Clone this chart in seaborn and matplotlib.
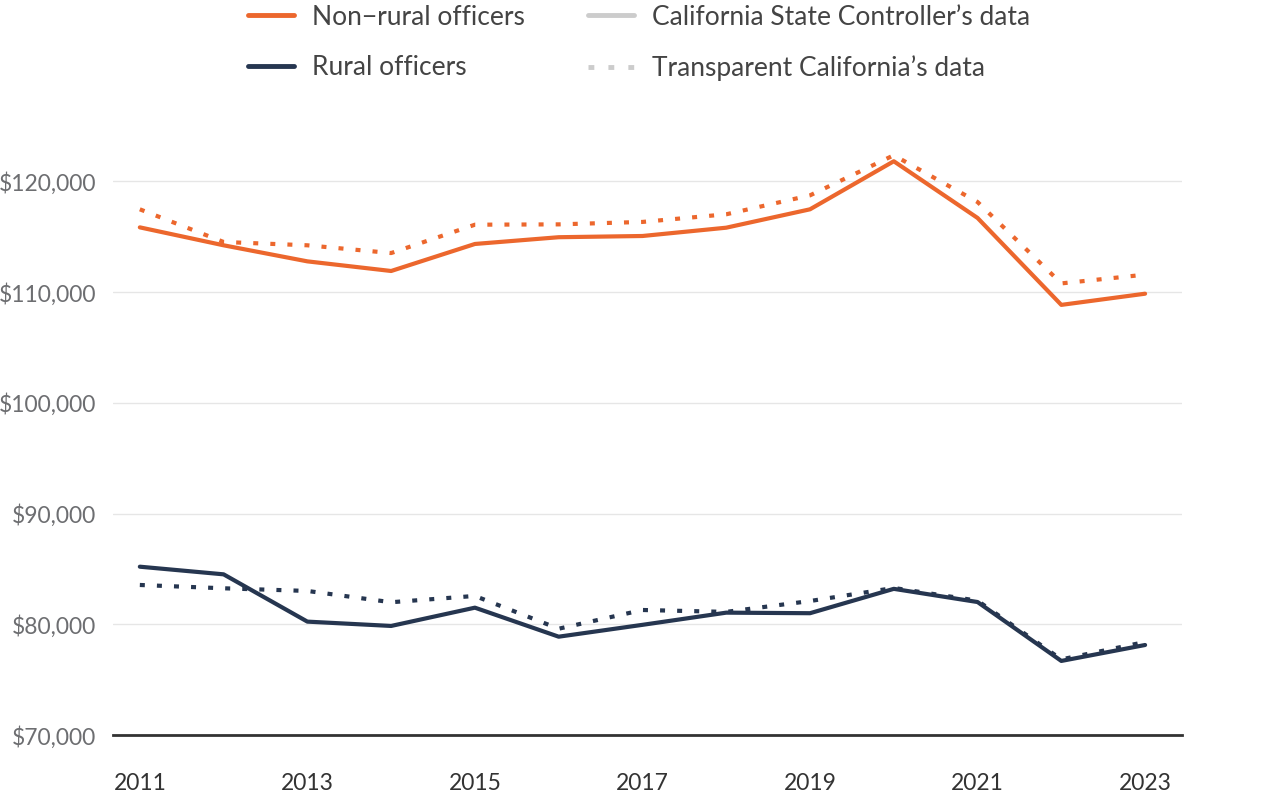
import pandas as pd
import numpy as np
import matplotlib.pyplot as plt
import seaborn as sns
from matplotlib.lines import Line2D
from matplotlib.ticker import FuncFormatter

years = list(range(2011, 2024))
nonrural_sco = [115840, 114220, 112770, 111900, 114340, 114950, 115060, 115810, 117470, 121810, 116690, 108840, 109850]
nonrural_tc = [117470, 114520, 114220, 113520, 116080, 116110, 116330, 117020, 118730, 122350, 118130, 110780, 111570]
rural_sco = [85200, 84510, 80240, 79850, 81500, 78880, 79950, 81050, 81000, 83200, 82010, 76690, 78130]
rural_tc = [83550, 83250, 83010, 81990, 82560, 79600, 81290, 81120, 82100, 83280, 82130, 76830, 78400]

groups = ["Non\u2212rural officers", "Rural officers"]
sources = ["California State Controller\u2019s data", "Transparent California\u2019s data"]

rows = []
for g, s, vals in [(groups[0], sources[0], nonrural_sco), (groups[0], sources[1], nonrural_tc),
                   (groups[1], sources[0], rural_sco), (groups[1], sources[1], rural_tc)]:
    for y, v in zip(years, vals):
        rows.append({"Year": y, "Salary": v, "Group": g, "Source": s})
df = pd.DataFrame(rows)

sns.set_theme(style="white")
plt.rcParams['font.family'] = ['Lato', 'DejaVu Sans']

orange = "#EC672D"
navy = "#263650"

fig = plt.figure(figsize=(12.8, 8.02), dpi=100)
ax = fig.add_axes([0.0883, 0.0835, 0.8351, 0.7595])

sns.lineplot(data=df, x="Year", y="Salary", hue="Group", style="Source",
             palette={groups[0]: orange, groups[1]: navy},
             dashes={sources[0]: "", sources[1]: (1.2, 2.9)},
             linewidth=3, legend=False, ax=ax)

ax.set_xlim(2010.68, 2023.44)
ax.set_ylim(70000, 125000)
ax.set_yticks(np.arange(70000, 125000, 10000))
ax.set_xticks(np.arange(2011, 2024, 2))
ax.yaxis.set_major_formatter(FuncFormatter(lambda v, p: f"${v:,.0f}"))
ax.set_xlabel("")
ax.set_ylabel("")

ax.grid(axis='y', color="#e6e6e6", linewidth=1)
ax.set_axisbelow(True)
for s in ['top', 'right', 'left']:
    ax.spines[s].set_visible(False)
ax.spines['bottom'].set_color("#333333")
ax.spines['bottom'].set_linewidth(2)

ax.tick_params(axis='y', length=0, pad=12, labelsize=16.5, labelcolor="#6d6e71")
ax.tick_params(axis='x', length=0, pad=27, labelsize=16.5, labelcolor="#333333")

handles = [
    Line2D([], [], color=orange, lw=3.5),
    Line2D([], [], color=navy, lw=3.5),
    Line2D([], [], color="#cccccc", lw=3.5),
    Line2D([], [], color="#cccccc", lw=3.5, dashes=(1.2, 2.9)),
]
labels = [groups[0], groups[1], sources[0], sources[1]]
fig.legend(handles, labels, ncol=2, loc='upper left',
           bbox_to_anchor=(0.175, 1.024), frameon=False, fontsize=19,
           handlelength=1.75, handletextpad=0.68, columnspacing=2.4,
           labelspacing=0.97, labelcolor="#444444")

plt.savefig("out.png", dpi=100)
